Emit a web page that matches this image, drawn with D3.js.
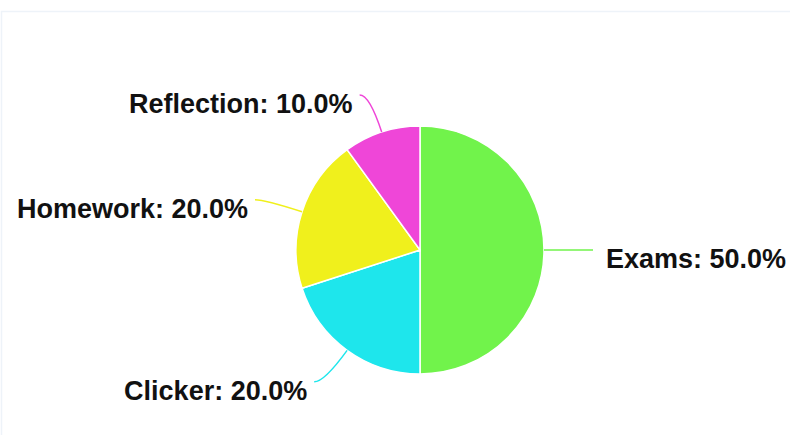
<!DOCTYPE html>
<html lang="en">
<head>
    <meta charset="UTF-8">
    <title>Grade breakdown pie</title>
    <style>
        body, html { margin: 0; padding: 0; background: #fff; overflow: hidden; }
        svg { display: block; }
        .label { font: bold 27px "Liberation Sans", Arial, sans-serif; fill: #111; }
    </style>
</head>
<body>
    <svg></svg>
    <script src="https://d3js.org/d3.v7.min.js"></script>
    <script>
        const categories = ["Exams", "Clicker", "Homework", "Reflection"];
        const shares = [50, 20, 20, 10];
        const colors = ["#71f34b", "#1ee6ec", "#f0f01c", "#ef46d8"];

        const width = 790, height = 435;
        const cx = 420, cy = 250, radius = 124;

        const svg = d3.select("svg")
            .attr("width", width)
            .attr("height", height);

        // faint frame round the plot area
        svg.append("rect")
            .attr("x", 1.5).attr("y", 11.5)
            .attr("width", 820).attr("height", 500)
            .attr("fill", "none")
            .attr("stroke", "#eef3f9")
            .attr("stroke-width", 1.5);

        const data = categories.map((c, i) => ({ name: c, value: shares[i], color: colors[i] }));

        const pie = d3.pie().value(d => d.value).sort(null);
        const arc = d3.arc().innerRadius(0).outerRadius(radius);
        const arcs = pie(data);
        const total = d3.sum(shares);

        const g = svg.append("g").attr("transform", `translate(${cx},${cy})`);

        g.selectAll("path.slice")
            .data(arcs)
            .enter().append("path")
            .attr("class", "slice")
            .attr("d", arc)
            .attr("fill", d => d.data.color)
            .attr("stroke", "#fff")
            .attr("stroke-width", 1.5);

        const polar = (a, r) => [r * Math.sin(a), -r * Math.cos(a)];

        // connector: from the rim, bending to a short horizontal tail
        const geom = arcs.map(d => {
            const a = (d.startAngle + d.endAngle) / 2;
            const right = Math.sin(a) > 0;
            const p0 = polar(a, radius);
            const p1 = polar(a, 163);
            const p2 = [p1[0] + (right ? 10 : -10), p1[1]];
            return { d, right, p0, p1, p2 };
        });

        g.selectAll("path.connector")
            .data(geom)
            .enter().append("path")
            .attr("class", "connector")
            .attr("d", o => `M${o.p0[0]},${o.p0[1]}Q${o.p1[0]},${o.p1[1]} ${o.p2[0]},${o.p2[1]}`)
            .attr("fill", "none")
            .attr("stroke", o => o.d.data.color)
            .attr("stroke-width", 1.5);

        g.selectAll("text.label")
            .data(geom)
            .enter().append("text")
            .attr("class", "label")
            .attr("x", o => o.p2[0] + (o.right ? 13 : -7))
            .attr("y", o => o.p2[1] + 18)
            .attr("text-anchor", o => o.right ? "start" : "end")
            .text(o => `${o.d.data.name}: ${(o.d.data.value / total * 100).toFixed(1)}%`);
    </script>
</body>
</html>
